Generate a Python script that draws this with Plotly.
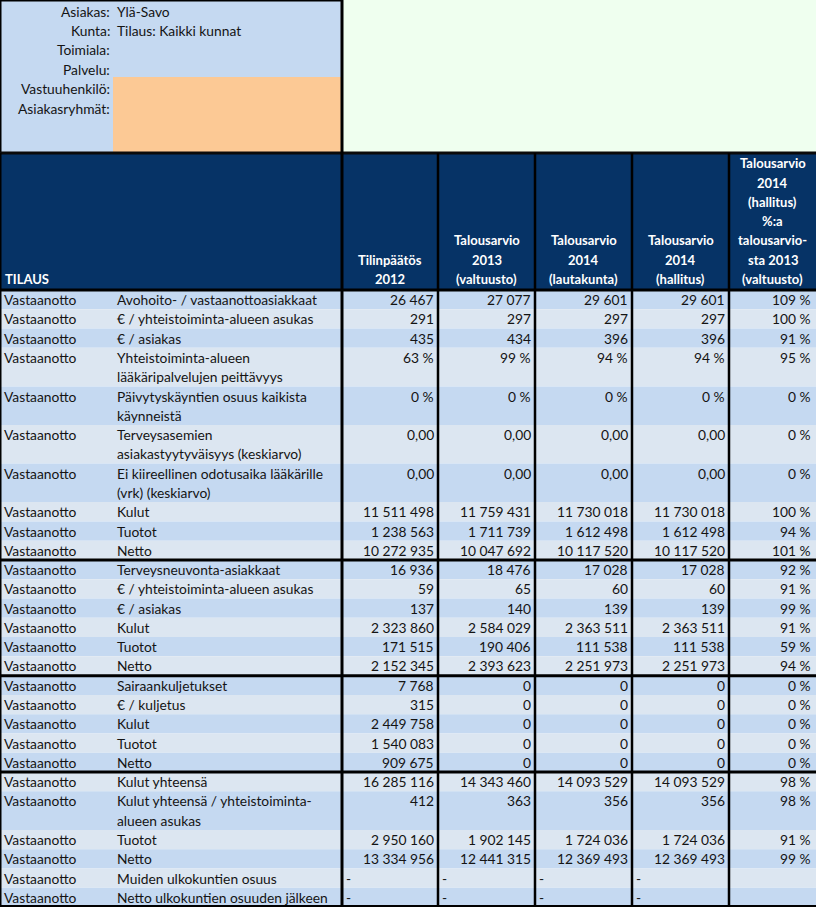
import plotly.graph_objects as go

# ---------------- data ----------------
info_labels = ["Asiakas:", "Kunta:", "Toimiala:", "Palvelu:", "Vastuuhenkilö:", "Asiakasryhmät:"]
info_values = ["Ylä-Savo", "Tilaus: Kaikki kunnat", "", "", "", ""]

first_header = "TILAUS"
col_headers = [
    ["Tilinpäätös", "2012"],
    ["Talousarvio", "2013", "(valtuusto)"],
    ["Talousarvio", "2014", "(lautakunta)"],
    ["Talousarvio", "2014", "(hallitus)"],
    ["Talousarvio", "2014", "(hallitus)", "%:a", "talousarvio-", "sta 2013", "(valtuusto)"],
]

row_group = ["Vastaanotto"] * 27
row_labels = [
    ["Avohoito- / vastaanottoasiakkaat"],
    ["€ / yhteistoiminta-alueen asukas"],
    ["€ / asiakas"],
    ["Yhteistoiminta-alueen", "lääkäripalvelujen peittävyys"],
    ["Päivytyskäyntien osuus kaikista", "käynneistä"],
    ["Terveysasemien", "asiakastyytyväisyys (keskiarvo)"],
    ["Ei kiireellinen odotusaika lääkärille", "(vrk) (keskiarvo)"],
    ["Kulut"], ["Tuotot"], ["Netto"],
    ["Terveysneuvonta-asiakkaat"],
    ["€ / yhteistoiminta-alueen asukas"],
    ["€ / asiakas"],
    ["Kulut"], ["Tuotot"], ["Netto"],
    ["Sairaankuljetukset"],
    ["€ / kuljetus"],
    ["Kulut"], ["Tuotot"], ["Netto"],
    ["Kulut yhteensä"],
    ["Kulut yhteensä / yhteistoiminta-", "alueen asukas"],
    ["Tuotot"], ["Netto"],
    ["Muiden ulkokuntien osuus"],
    ["Netto ulkokuntien osuuden jälkeen"],
]
# value format per row: int, pct, dec
row_format = ["int", "int", "int", "pct", "pct", "dec", "dec",
              "int", "int", "int", "int", "int", "int", "int", "int", "int",
              "int", "int", "int", "int", "int", "int", "int", "int", "int", "int", "int"]

tilinpaatos_2012 = [26467, 291, 435, 63, 0, 0.00, 0.00, 11511498, 1238563, 10272935,
                    16936, 59, 137, 2323860, 171515, 2152345,
                    7768, 315, 2449758, 1540083, 909675,
                    16285116, 412, 2950160, 13334956, None, None]
talousarvio_2013 = [27077, 297, 434, 99, 0, 0.00, 0.00, 11759431, 1711739, 10047692,
                    18476, 65, 140, 2584029, 190406, 2393623,
                    0, 0, 0, 0, 0,
                    14343460, 363, 1902145, 12441315, None, None]
talousarvio_2014_lautakunta = [29601, 297, 396, 94, 0, 0.00, 0.00, 11730018, 1612498, 10117520,
                               17028, 60, 139, 2363511, 111538, 2251973,
                               0, 0, 0, 0, 0,
                               14093529, 356, 1724036, 12369493, None, None]
talousarvio_2014_hallitus = [29601, 297, 396, 94, 0, 0.00, 0.00, 11730018, 1612498, 10117520,
                             17028, 60, 139, 2363511, 111538, 2251973,
                             0, 0, 0, 0, 0,
                             14093529, 356, 1724036, 12369493, None, None]
muutos_pct = [109, 100, 91, 95, 0, 0, 0, 100, 94, 101,
              92, 91, 99, 91, 59, 94,
              0, 0, 0, 0, 0,
              98, 98, 91, 99, None, None]

group_ends = [9, 15, 20]  # thick separator after these rows

# ---------------- layout constants ----------------
W, H = 816, 907
col_x = [0, 113, 342, 438, 535, 632, 729, 816]
top_h = 153
head_bottom = 290
unit = (H - head_bottom) / 32.0

NAVY = "#063366"
DARK = "#C5D9F1"
LIGHT = "#DCE6F1"
TXT = "#141414"
FONT = "Lato"
FS = 13.8
HFS = 13

NBSP = "\u00a0"


def fmt_num(v, kind):
    if v is None:
        return "-"
    if kind == "pct":
        return f"{v:.0f}{NBSP}%"
    if kind == "dec":
        return f"{v:.2f}".replace(".", ",")
    return f"{int(round(v)):,}".replace(",", NBSP)


shapes = []
ann = []


def rect(x0, y0, x1, y1, color, lw=0, lc=None):
    shapes.append(dict(type="rect", xref="x", yref="y", x0=x0, x1=x1, y0=y0, y1=y1,
                       fillcolor=color, line=dict(width=lw, color=lc or color), layer="below"))


def line(x0, y0, x1, y1, w=2, c="#000000"):
    shapes.append(dict(type="line", xref="x", yref="y", x0=x0, x1=x1, y0=y0, y1=y1,
                       line=dict(width=w, color=c), layer="above"))


def text(x, y, s, anchor="left", bold=False, color=TXT, size=FS):
    ann.append(dict(x=x, y=y, xref="x", yref="y", text=f"<b>{s}</b>" if bold else s,
                    showarrow=False, xanchor=anchor, yanchor="middle",
                    font=dict(family=FONT, size=size, color=color)))


# ----- top info panel -----
rect(0, 0, col_x[2], top_h, "#C5D9F1")
rect(col_x[1], 77, col_x[2], top_h, "#FCC995")
rect(col_x[2], 0, W, top_h, "#EFFFEF")
line(0.5, 0, 0.5, top_h, 2)
line(0, 0.5, col_x[2], 0.5, 2)
for i, (lab, val) in enumerate(zip(info_labels, info_values)):
    yc = 11 + i * 19.4
    text(112, yc, lab, anchor="right")
    if val:
        text(115, yc, val, anchor="left")

# ----- header -----
rect(0, top_h, W, head_bottom, NAVY)
text(3, head_bottom - 11, first_header, bold=True, color="white", size=HFS)
for ci, hdr in enumerate(col_headers):
    cx = (col_x[ci + 2] + col_x[ci + 3]) / 2
    n = len(hdr)
    for li, s in enumerate(hdr):
        yc = head_bottom - 11 - (n - 1 - li) * 19.3
        text(cx, yc, s, anchor="center", bold=True, color="white", size=HFS)

# ----- body rows -----
row_units = [len(lbl) for lbl in row_labels]
columns = [tilinpaatos_2012, talousarvio_2013, talousarvio_2014_lautakunta, talousarvio_2014_hallitus]
y = head_bottom
for r, lbl in enumerate(row_labels):
    h = row_units[r] * unit
    rect(0, y, W, y + h, DARK if r % 2 == 0 else LIGHT)
    yc = y + unit / 2
    text(2, yc, row_group[r])
    for li, s in enumerate(lbl):
        text(115, yc + li * unit, s)
    for ci, col in enumerate(columns):
        v = col[r]
        if v is None:
            text(col_x[ci + 2] + 2, yc, "-")
        else:
            text(col_x[ci + 3] - 2, yc, fmt_num(v, row_format[r]), anchor="right")
    pv = muutos_pct[r]
    if pv is not None:
        text(col_x[7] - 3, yc, fmt_num(pv, "pct"), anchor="right")
    y += h
    if r in group_ends:
        line(0, y, W, y, 3)

# grid lines
line(0, top_h, W, top_h, 3, "#0a0a0a")
line(0, head_bottom, W, head_bottom, 3)
line(col_x[2], 0, col_x[2], H, 3)
for xv in col_x[3:7]:
    line(xv, top_h, xv, H, 2.5)
line(0.5, top_h, 0.5, H, 2)
line(0, H - 1, W, H - 1, 2)

fig = go.Figure()
fig.update_layout(
    width=W, height=H, margin=dict(l=0, r=0, t=0, b=0),
    paper_bgcolor="white", plot_bgcolor="white",
    xaxis=dict(range=[0, W], visible=False, fixedrange=True),
    yaxis=dict(range=[H, 0], visible=False, fixedrange=True),
    shapes=shapes, annotations=ann, showlegend=False,
)
fig.write_html(
    "out.html",
    config={"displayModeBar": False},
    post_script="document.body.style.margin='0';document.body.style.overflow='hidden';",
)
